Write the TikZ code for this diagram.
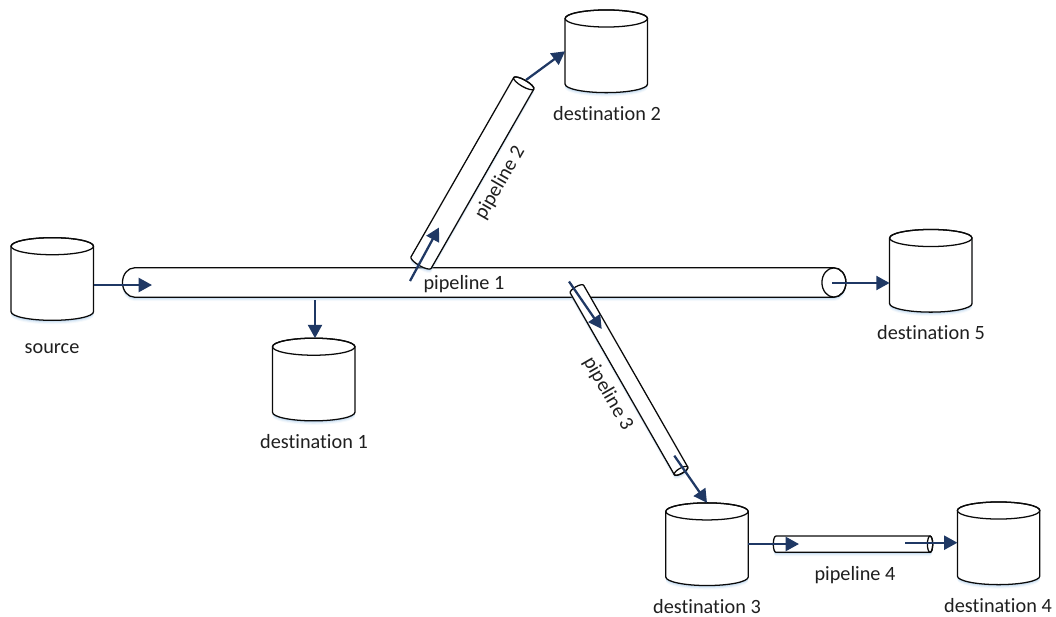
\documentclass[tikz,border=0pt]{standalone}
\usepackage{fontspec}
\setmainfont[Ligatures=NoCommon]{Carlito}
\usetikzlibrary{arrows.meta}
\definecolor{arrowblue}{HTML}{1F3864}
\definecolor{glow}{HTML}{9DC3E6}
\definecolor{inkline}{HTML}{0A0A0A}
\tikzset{
  cylbody/.style={draw=inkline,fill=white,line width=.95pt},
  anchorbox/.style={rectangle,inner sep=0pt,outer sep=0pt},
  lbl/.style={inner sep=0pt,font=\fontsize{15.2}{18}\selectfont,text=black!88},
  flow/.style={draw=arrowblue,line width=1.7pt,-{Triangle[length=10pt,width=10.5pt]}}
}
% outline of a cylinder lying along local x: half length #1, radius #2, end radius #3 (pt)
\newcommand{\cyloutline}[3]{(-#1pt,#2pt) -- (#1pt,#2pt)
  arc[start angle=90,end angle=-90,x radius=#3pt,y radius=#2pt]
  -- (-#1pt,-#2pt)
  arc[start angle=270,end angle=90,x radius=#3pt,y radius=#2pt] -- cycle}
% #1 centre, #2 angle, #3 half length, #4 radius, #5 end radius
\newcommand{\drawcyl}[5]{%
  \foreach \off/\op in {3.0/.10,2.2/.18,1.4/.28,.7/.35}{%
    \begin{scope}[shift={#1},yshift=-\off pt,rotate=#2]
      \fill[glow,opacity=\op] \cyloutline{#3}{#4}{#5};
    \end{scope}}%
  \begin{scope}[shift={#1},rotate=#2]
    \path[cylbody] \cyloutline{#3}{#4}{#5};
    \draw[inkline,line width=.95pt] (#3pt,0pt) ellipse[x radius=#5pt,y radius=#4pt];
  \end{scope}}
% store: name, centre
\newcommand{\store}[2]{%
  \drawcyl{#2}{90}{24.6}{30.9}{6.4}%
  \node[anchorbox,minimum width=61.8pt,minimum height=62pt] (#1) at #2 {};}
% pipe: name, centre, angle, half length, radius, end radius
\newcommand{\pipe}[6]{%
  \drawcyl{#2}{#3}{#4}{#5}{#6}%
  \pgfmathsetmacro{\pl}{2*(#4+#6)}\pgfmathsetmacro{\pw}{2*#5}%
  \node[anchorbox,rotate=#3,minimum width=\pl pt,minimum height=\pw pt] (#1) at #2 {};}
\begin{document}
\begin{tikzpicture}[x=.75pt,y=-.75pt]
\useasboundingbox (0,0) rectangle (1056,617);
\store{source}{(52.3,279)}
\store{d1}{(313.7,379.5)}
\store{d2}{(606.3,51.3)}
\store{d3}{(707,544.2)}
\store{d4}{(998.6,543.3)}
\store{d5}{(930.8,270.8)}
\pipe{p1}{(484.2,282.5)}{0}{262.3}{11}{9}
\pipe{p2}{(472.4,173)}{60.2}{77.5}{8.7}{2.5}
\pipe{p3}{(629,380)}{-60.2}{78.5}{5.8}{2}
\pipe{p4}{(853,544.2)}{0}{57.8}{6.1}{2}
\node[lbl,anchor=base] (lsource) at (52,353) {source};
\node[lbl,anchor=base] (l1) at (314,448) {destination 1};
\node[lbl,anchor=base] (l2) at (607,120) {destination 2};
\node[lbl,anchor=base] (l3) at (707,613.5) {destination 3};
\node[lbl,anchor=base] (l4) at (998,612.5) {destination 4};
\node[lbl,anchor=base] (l5) at (931,339) {destination 5};
\node[lbl,anchor=base] (lp1) at (464,289.3) {pipeline 1};
\node[lbl,rotate=60] (lp2) at (500,183) {pipeline 2};
\node[lbl,rotate=-60] (lp3) at (608,394) {pipeline 3};
\node[lbl,anchor=base] (lp4) at (855,580) {pipeline 4};
\coordinate (a2) at (152,285);
\coordinate (b1) at (315,300);
\coordinate (c1) at (410,281);
\coordinate (c2) at (439,227.5);
\coordinate (d1s) at (526,80);
\coordinate (e1) at (832,283);
\coordinate (f1) at (569,281.5);
\coordinate (f2) at (601.7,329);
\coordinate (g1) at (674.3,455.7);
\coordinate (h2) at (799,544);
\coordinate (i1) at (905,542.7);
\draw[flow] (source.east |- a2) -- (a2);
\draw[flow] (b1) -- (b1 |- d1.north);
\draw[flow] (c1) -- (c2);
\draw[flow] (d1s) -- (d2.west);
\draw[flow] (e1) -- (e1 -| d5.west);
\draw[flow] (f1) -- (f2);
\draw[flow] (g1) -- (d3.north);
\draw[flow] (d3.east |- h2) -- (h2);
\draw[flow] (i1) -- (i1 -| d4.west);
\end{tikzpicture}
\end{document}
